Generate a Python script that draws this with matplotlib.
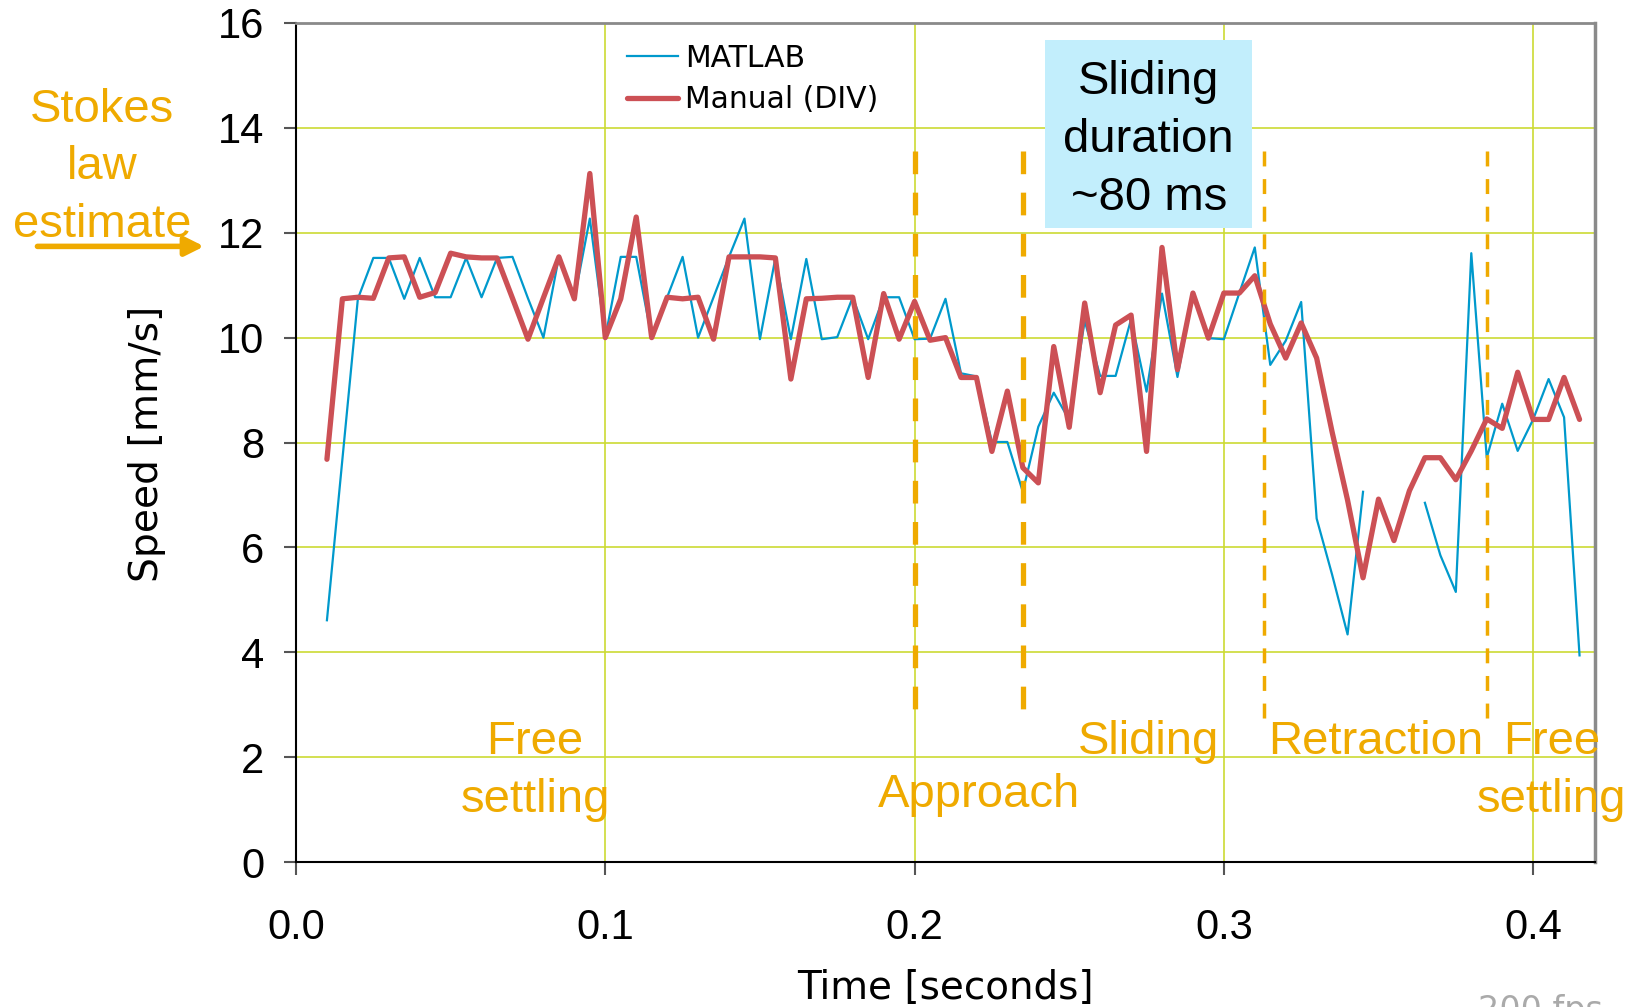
import numpy as np
import matplotlib
matplotlib.use("Agg")
import matplotlib.pyplot as plt
from matplotlib.patches import Rectangle

plt.rcParams['font.family'] = ['DejaVu Sans']

# ---------------- data ----------------
time_s = [0.010, 0.015, 0.020, 0.025, 0.030, 0.035, 0.040, 0.045, 0.050, 0.055,
          0.060, 0.065, 0.070, 0.075, 0.080, 0.085, 0.090, 0.095, 0.100, 0.105,
          0.110, 0.115, 0.120, 0.125, 0.130, 0.135, 0.140, 0.145, 0.150, 0.155,
          0.160, 0.165, 0.170, 0.175, 0.180, 0.185, 0.190, 0.195, 0.200, 0.205,
          0.210, 0.215, 0.220, 0.225, 0.230, 0.235, 0.240, 0.245, 0.250, 0.255,
          0.260, 0.265, 0.270, 0.275, 0.280, 0.285, 0.290, 0.295, 0.300, 0.305,
          0.310, 0.315, 0.320, 0.325, 0.330, 0.335, 0.340, 0.345, 0.350, 0.355,
          0.360, 0.365, 0.370, 0.375, 0.380, 0.385, 0.390, 0.395, 0.400, 0.405,
          0.410, 0.415]

matlab = [4.61, 7.68, 10.74, 11.52, 11.52, 10.74, 11.52, 10.77, 10.77, 11.52,
          10.77, 11.52, 11.54, 10.75, 10.00, 11.54, 10.74, 12.27, 10.00, 11.54,
          11.54, 10.00, 10.77, 11.54, 10.00, 10.77, 11.54, 12.27, 9.97, 11.52,
          9.97, 11.50, 9.97, 10.01, 10.77, 9.97, 10.77, 10.77, 9.97, 9.98,
          10.74, 9.32, 9.26, 8.01, 8.01, 7.06, 8.30, 8.95, 8.43, 10.32,
          9.27, 9.27, 10.35, 8.97, 10.84, 9.25, 10.84, 9.99, 9.97, 10.85,
          11.72, 9.48, 9.94, 10.68, 6.55, 5.48, 4.34, 7.06, np.nan, np.nan,
          np.nan, 6.85, 5.85, 5.15, 11.61, 7.71, 8.74, 7.84, 8.44, 9.21,
          8.48, 3.94]

manual = [7.68, 10.74, 10.77, 10.75, 11.52, 11.54, 10.77, 10.86, 11.61, 11.54,
          11.52, 11.52, 10.75, 9.97, 10.76, 11.54, 10.74, 13.13, 10.00, 10.74,
          12.30, 10.00, 10.77, 10.74, 10.77, 9.97, 11.54, 11.54, 11.54, 11.52,
          9.21, 10.74, 10.75, 10.77, 10.77, 9.24, 10.84, 9.97, 10.69, 9.95,
          10.00, 9.24, 9.24, 7.83, 8.98, 7.52, 7.23, 9.83, 8.29, 10.66,
          8.95, 10.24, 10.43, 7.83, 11.72, 9.39, 10.85, 9.99, 10.85, 10.85,
          11.18, 10.26, 9.61, 10.28, 9.61, 8.20, 6.90, 5.42, 6.92, 6.13,
          7.08, 7.71, 7.71, 7.29, 7.84, 8.45, 8.27, 9.34, 8.44, 8.44,
          9.24, 8.44]

phase_bounds_thick = [0.200, 0.235]
phase_bounds_thin = [0.313, 0.385]

x_ticks = [0.0, 0.1, 0.2, 0.3, 0.4]
x_ticklabels = ["0.0", "0.1", "0.2", "0.3", "0.4"]
y_ticks = [0, 2, 4, 6, 8, 10, 12, 14, 16]

# ---------------- styling ----------------
ORANGE = '#EFAA00'
BLUE = '#0099CC'
RED = '#CC5055'
GRID = '#CCDA33'
ARIAL = 'Liberation Sans'

fig = plt.figure(figsize=(16.38, 10.07), dpi=100)
ax = fig.add_axes([0.18071, 0.14399, 0.79304, 0.83317])

ax.set_xlim(0, 0.42)
ax.set_ylim(0, 16)
ax.set_xticks(x_ticks)
ax.set_xticklabels(x_ticklabels)
ax.set_yticks(y_ticks)
ax.tick_params(axis='both', direction='out', length=9, width=1.5,
               color='#555555', labelsize=30, labelfontfamily=ARIAL)
ax.tick_params(axis='y', pad=14)
ax.tick_params(axis='x', pad=24)

ax.grid(True, color=GRID, lw=1.2)
ax.set_axisbelow(True)

for s in ['left', 'bottom']:
    ax.spines[s].set_color('black')
    ax.spines[s].set_linewidth(1.5)
ax.spines['top'].set_color('#8a8a8a')
ax.spines['top'].set_linewidth(2)
ax.spines['right'].set_color('#8a8a8a')
ax.spines['right'].set_linewidth(2.5)

ax.plot(time_s, matlab, color=BLUE, lw=1.6, label='MATLAB', zorder=3)
ax.plot(time_s, manual, color=RED, lw=3.8, label='Manual (DIV)', zorder=4,
        solid_joinstyle='round', solid_capstyle='round')

for xb in phase_bounds_thick:
    ax.plot([xb, xb], [13.55, 2.65], color=ORANGE, lw=3.8,
            ls=(0, (4.3, 3.5)), dash_capstyle='butt', zorder=5)
for xb in phase_bounds_thin:
    ax.plot([xb, xb], [13.55, 2.73], color=ORANGE, lw=2.5,
            ls=(0, (4.3, 3.65)), dash_capstyle='butt', zorder=5)

# sliding duration box
ax.add_patch(Rectangle((0.2422, 12.09), 0.0669, 3.59, facecolor='#C2EEFC',
                       edgecolor='none', zorder=2.5))
ax.text(0.2757, 13.77, "Sliding\nduration\n~80 ms", ha='center', va='center',
        fontsize=34, family=ARIAL, color='black', linespacing=1.4, zorder=6)

# phase labels
kw = dict(fontsize=34, family=ARIAL, color=ORANGE, ha='center', va='center',
          linespacing=1.4, zorder=6, clip_on=False)
ax.text(0.0773, 1.74, "Free\nsettling", **kw)
ax.text(0.2209, 1.28, "Approach", **kw)
ax.text(0.2755, 2.29, "Sliding", **kw)
ax.text(0.3490, 2.29, "Retraction", **kw)
ax.text(0.4059, 1.74, "Free\nsettling", **kw)
ax.text(-0.0627, 13.25, "Stokes\nlaw\nestimate", **kw)

ax.annotate('', xy=(-0.0297, 11.74), xytext=(-0.0836, 11.74),
            arrowprops=dict(arrowstyle='-|>', color=ORANGE, lw=4,
                            mutation_scale=28, shrinkA=0, shrinkB=0),
            annotation_clip=False)

# axis labels
ax.text(-0.1147, 0.498, "Speed [mm/s]", transform=ax.transAxes, rotation=90,
        ha='center', va='center', fontsize=28.3)
ax.text(0.5, -0.1500, "Time [seconds]", transform=ax.transAxes,
        ha='center', va='center', fontsize=28)

fig.text(0.9406, 0.0134, "200 fps", ha='center', va='top', fontsize=24,
         color='#aaaaaa')

ax.legend(loc='upper left', bbox_to_anchor=(0.2548, 0.9755), frameon=False,
          fontsize=21.5, handlelength=1.7, handletextpad=0.25, labelspacing=0.42,
          borderpad=0, borderaxespad=0)

fig.savefig('out.png', dpi=100)
